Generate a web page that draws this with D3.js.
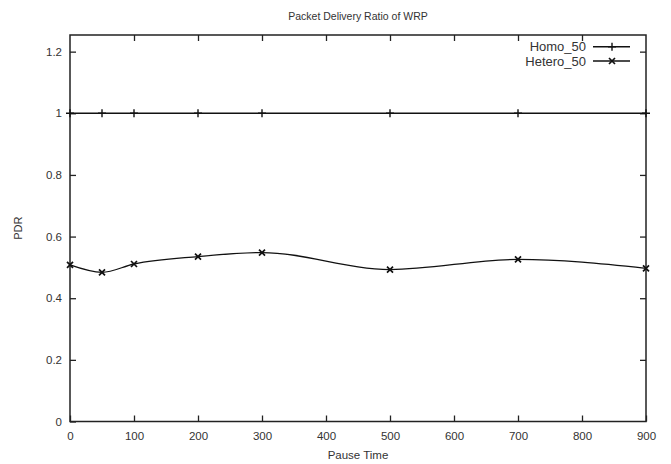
<!DOCTYPE html>
<html>
<head>
<meta charset="utf-8">
<script src="https://d3js.org/d3.v7.min.js"></script>
<style>
  body { margin: 0; background: #fff; }
  text { font-family: "Liberation Sans", Arial, sans-serif; fill: #333; }
</style>
</head>
<body>
<div id="chart"></div>
<script>
// data
const pauseTimes = [0, 50, 100, 200, 300, 500, 700, 900];
const homo50 = [1, 1, 1, 1, 1, 1, 1, 1];
const hetero50 = [0.508, 0.484, 0.511, 0.535, 0.548, 0.493, 0.526, 0.497];
const xTicks = [0, 100, 200, 300, 400, 500, 600, 700, 800, 900];
const yTicks = [0, 0.2, 0.4, 0.6, 0.8, 1, 1.2];
const seriesNames = ['Homo_50', 'Hetero_50'];

const W = 671, H = 464;
const margin = {top: 35, right: 25, bottom: 42.5, left: 70};
const width = W - margin.left - margin.right;
const height = H - margin.top - margin.bottom;

const svg = d3.select('#chart').append('svg')
    .attr('width', W)
    .attr('height', H);

const g = svg.append('g')
    .attr('transform', 'translate(' + margin.left + ',' + margin.top + ')');

const xScale = d3.scaleLinear().domain([0, 900]).range([0, width]);
const yScale = d3.scaleLinear().domain([0, 1.254]).range([height, 0]);

const tickLen = 6;

// bottom axis, ticks pointing inwards
const xAxis = d3.axisBottom(xScale).tickValues(xTicks).tickSizeInner(-tickLen).tickSizeOuter(0).tickPadding(10);
g.append('g').attr('transform', 'translate(0,' + height + ')').call(xAxis);

// top mirror ticks
const xTop = d3.axisTop(xScale).tickValues(xTicks.slice(1, -1)).tickSizeInner(-tickLen).tickSizeOuter(0).tickFormat('');
g.append('g').call(xTop);

const yAxis = d3.axisLeft(yScale).tickValues(yTicks).tickSizeInner(-tickLen).tickSizeOuter(0).tickPadding(8)
    .tickFormat(d => d3.format('~g')(d));
g.append('g').call(yAxis);

const yRight = d3.axisRight(yScale).tickValues(yTicks.slice(1)).tickSizeInner(-tickLen).tickSizeOuter(0).tickFormat('');
g.append('g').attr('transform', 'translate(' + width + ',0)').call(yRight);

g.selectAll('.domain').remove();
g.selectAll('.tick line').attr('stroke', '#222').attr('stroke-width', 1.3);
g.selectAll('.tick text').style('font-size', '11.5px').attr('fill', '#3a3a3a');

// frame
g.append('rect')
    .attr('width', width).attr('height', height)
    .attr('fill', 'none').attr('stroke', '#222').attr('stroke-width', 1.5);

// series
const homo = pauseTimes.map((x, i) => ({x: x, y: homo50[i]}));
const hetero = pauseTimes.map((x, i) => ({x: x, y: hetero50[i]}));

const line = d3.line()
    .x(d => xScale(d.x))
    .y(d => yScale(d.y))
    .curve(d3.curveMonotoneX);

g.append('path').datum(homo)
    .attr('d', line).attr('fill', 'none').attr('stroke', '#111').attr('stroke-width', 1.6);
g.append('path').datum(hetero)
    .attr('d', line).attr('fill', 'none').attr('stroke', '#111').attr('stroke-width', 1.3);

function plus(sel, s) {
    sel.append('path').attr('d', `M${-s},0H${s}M0,${-s}V${s}`)
        .attr('stroke', '#111').attr('stroke-width', 1.4).attr('fill', 'none');
}
function cross(sel, s) {
    sel.append('path').attr('d', `M${-s},${-s}L${s},${s}M${-s},${s}L${s},${-s}`)
        .attr('stroke', '#111').attr('stroke-width', 1.7).attr('fill', 'none');
}

g.selectAll('.homo-pt').data(homo).enter().append('g')
    .attr('transform', d => 'translate(' + xScale(d.x) + ',' + yScale(d.y) + ')')
    .each(function() { plus(d3.select(this), 4); });
g.selectAll('.het-pt').data(hetero).enter().append('g')
    .attr('transform', d => 'translate(' + xScale(d.x) + ',' + yScale(d.y) + ')')
    .each(function() { cross(d3.select(this), 3); });

// legend
const legend = g.append('g').attr('transform', 'translate(' + (width - 53) + ',0)');
seriesNames.forEach((name, i) => {
    const row = legend.append('g').attr('transform', 'translate(0,' + (11.7 + i * 14.3) + ')');
    row.append('text').attr('x', -7).attr('dy', '0.35em').attr('text-anchor', 'end')
        .style('font-size', '13px').text(name);
    row.append('line').attr('x1', 0).attr('x2', 37).attr('stroke', '#111').attr('stroke-width', 1.4);
    const m = row.append('g').attr('transform', 'translate(19,0)');
    if (i === 0) plus(m, 4); else cross(m, 3);
});

// titles
svg.append('text').attr('x', margin.left + width / 2).attr('y', 20)
    .attr('text-anchor', 'middle').style('font-size', '10.5px').text('Packet Delivery Ratio of WRP');
svg.append('text').attr('x', margin.left + width / 2).attr('y', 459)
    .attr('text-anchor', 'middle').style('font-size', '11.5px').text('Pause Time');
svg.append('text').attr('transform', 'translate(22,' + (margin.top + height / 2) + ') rotate(-90)')
    .attr('text-anchor', 'middle').style('font-size', '11px').text('PDR');
</script>
</body>
</html>
